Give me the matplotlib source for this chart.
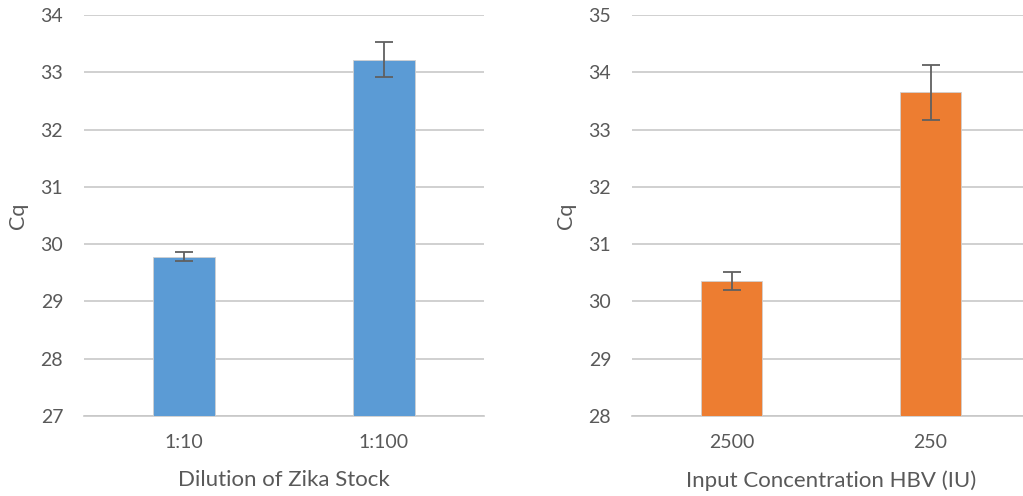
import numpy as np
import matplotlib
matplotlib.use("Agg")
import matplotlib.pyplot as plt

plt.rcParams['font.family'] = ['Lato', 'DejaVu Sans']

# Zika
zika_labels = ["1:10", "1:100"]
zika_cq = [29.78, 33.22]
zika_err = [0.08, 0.30]

# HBV
hbv_labels = ["2500", "250"]
hbv_cq = [30.36, 33.65]
hbv_err = [0.16, 0.48]

fig = plt.figure(figsize=(10.23, 4.96), dpi=100)

txt = "#595959"
grid = "#C8C8C8"


def panel(ax, labels, vals, errs, color, ylim, xlabel):
    x = np.arange(len(labels))
    ax.bar(x, np.array(vals) - ylim[0], bottom=ylim[0], width=0.31, color=color,
           edgecolor="#D0D0D0", linewidth=0.6, zorder=3)
    ax.errorbar(x, vals, yerr=errs, fmt="none", ecolor="#606060", elinewidth=1.3,
                capsize=6.5, capthick=1.3, zorder=4)
    ax.set_xlim(-0.5, len(labels) - 0.5)
    ax.set_ylim(*ylim)
    ax.set_yticks(np.arange(ylim[0], ylim[1] + 1))
    ax.set_xticks(x)
    ax.set_xticklabels(labels)
    ax.grid(axis="y", color=grid, linewidth=1.2, zorder=0)
    for s in ["top", "right", "left"]:
        ax.spines[s].set_visible(False)
    ax.spines["bottom"].set_color(grid)
    ax.spines["bottom"].set_linewidth(1.2)
    ax.tick_params(axis="both", length=0, labelsize=14, colors=txt, pad=13)
    ax.tick_params(axis="y", pad=15)
    ax.set_ylabel("Cq", fontsize=15.5, color=txt, labelpad=9)
    ax.set_xlabel(xlabel, fontsize=16, color=txt, labelpad=14)


ax1 = fig.add_axes([84 / 1023, 80 / 496, 400 / 1023, 401 / 496])
panel(ax1, zika_labels, zika_cq, zika_err, "#5B9BD5", (27, 34), "Dilution of Zika Stock")

ax2 = fig.add_axes([632 / 1023, 80 / 496, 398 / 1023, 401 / 496])
panel(ax2, hbv_labels, hbv_cq, hbv_err, "#ED7D31", (28, 35), "Input Concentration HBV (IU)")

fig.savefig("out.png", dpi=100)
